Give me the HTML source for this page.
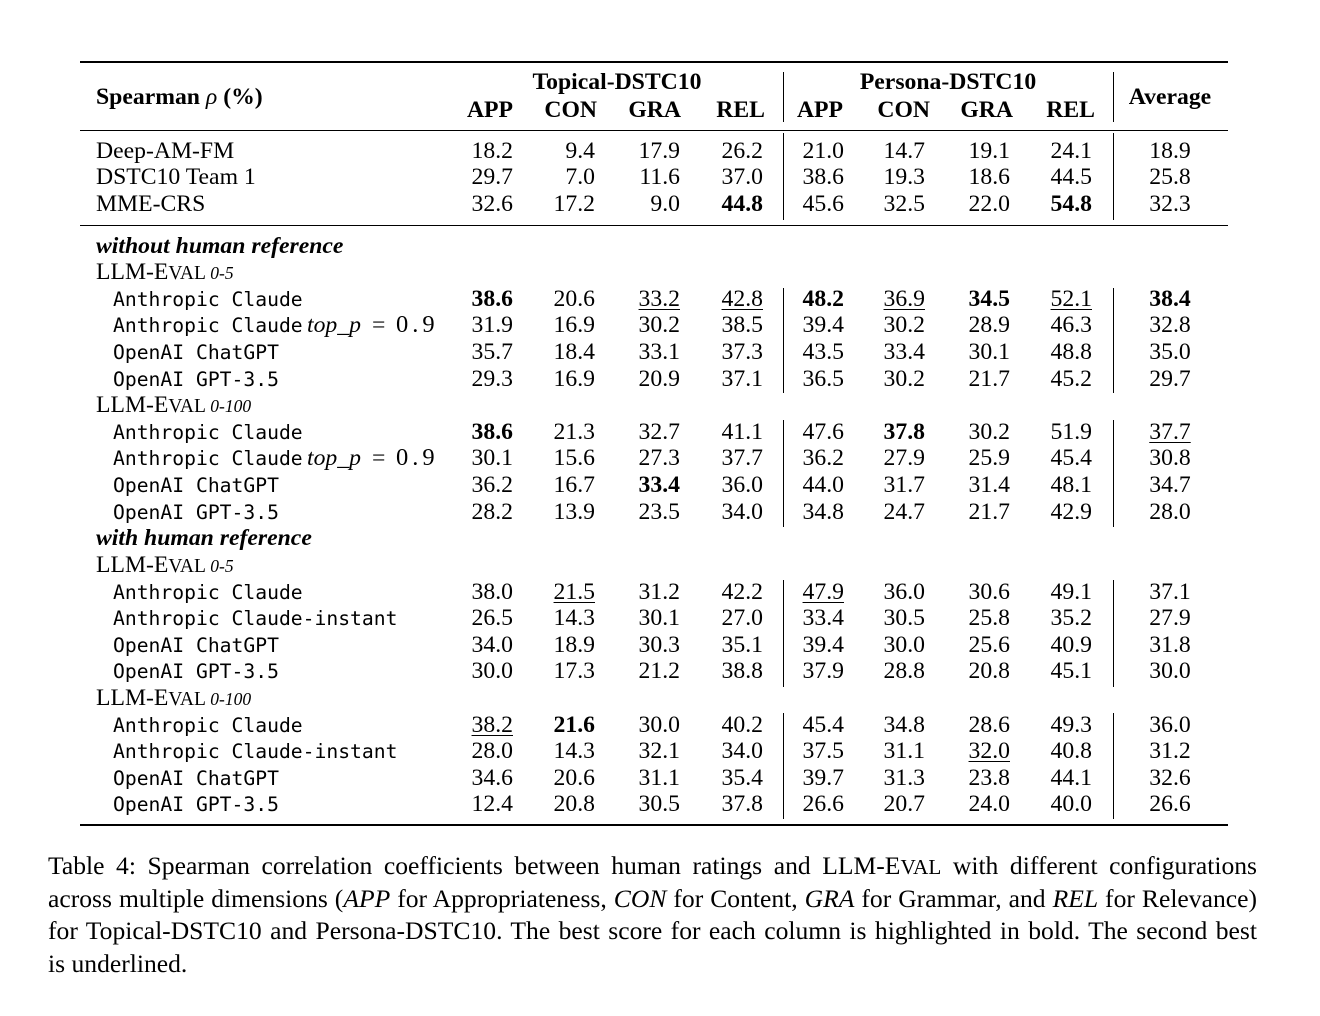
<!DOCTYPE html>
<html>
<head>
<meta charset="utf-8">
<style>
html,body{margin:0;padding:0;background:#fff;}
body{width:1320px;height:1016px;position:relative;overflow:hidden;color:#000;font-family:"Liberation Serif",serif;}
.hr{position:absolute;left:80px;width:1148px;background:#000;}
.vb{position:absolute;width:1px;background:#000;}
.r{position:absolute;left:0;width:1320px;height:26px;line-height:26px;font-size:23.7px;white-space:nowrap;}
.r .c{position:absolute;top:0;width:80px;text-align:right;}
.c1{left:433px}.c2{left:515px}.c3{left:600px}.c4{left:683px}
.c5{left:764px}.c6{left:845px}.c7{left:930px}.c8{left:1012px}
.r .av{position:absolute;top:0;left:1120px;width:100px;text-align:center;}
.l{position:absolute;left:96px;top:0;}
.m{position:absolute;left:113px;top:1.2px;font-family:"DejaVu Sans Mono",monospace;font-size:19.7px;}
.sc{font-size:19.5px;}
.sm{font-size:17.5px;font-style:italic;}
u{text-decoration:underline;text-underline-offset:3px;text-decoration-thickness:1px;}
.h{font-weight:bold;}
.cap{position:absolute;left:48px;width:1209px;font-size:25.6px;line-height:32px;height:32px;white-space:nowrap;text-align:justify;text-align-last:justify;}
.cap4{text-align:left;text-align-last:left;}
.tp{position:absolute;left:307px}
.eq{position:absolute;left:372px}
.nv{position:absolute;left:396px;letter-spacing:4px;font-size:24.5px}
</style>
</head>
<body>

<!-- rules -->
<div class="hr" style="top:61px;height:2px"></div>
<div class="hr" style="top:130px;height:1px"></div>
<div class="hr" style="top:225px;height:1px"></div>
<div class="hr" style="top:824px;height:2px"></div>

<!-- vertical bars -->
<div class="vb" style="left:783px;top:72px;height:50px"></div>
<div class="vb" style="left:1113px;top:72px;height:50px"></div>
<div class="vb" style="left:783px;top:133px;height:87px"></div>
<div class="vb" style="left:1113px;top:133px;height:87px"></div>
<div class="vb" style="left:783px;top:288px;height:105px"></div>
<div class="vb" style="left:1113px;top:288px;height:105px"></div>
<div class="vb" style="left:783px;top:420px;height:107px"></div>
<div class="vb" style="left:1113px;top:420px;height:107px"></div>
<div class="vb" style="left:783px;top:580px;height:107px"></div>
<div class="vb" style="left:1113px;top:580px;height:107px"></div>
<div class="vb" style="left:783px;top:713px;height:106px"></div>
<div class="vb" style="left:1113px;top:713px;height:106px"></div>

<!-- header -->
<div class="r h" style="top:83.5px"><span class="l">Spearman <i style="font-weight:normal">ρ</i> (%)</span></div>
<div class="r h" style="top:69px">
  <span style="position:absolute;left:517px;width:200px;text-align:center">Topical-DSTC10</span>
  <span style="position:absolute;left:848px;width:200px;text-align:center">Persona-DSTC10</span>
</div>
<div class="r h" style="top:84px"><span class="av">Average</span></div>
<div class="r h" style="top:96.5px">
  <span class="c" style="left:433px">APP</span>
  <span class="c" style="left:517px">CON</span>
  <span class="c" style="left:601px">GRA</span>
  <span class="c" style="left:685px">REL</span>
  <span class="c" style="left:763px">APP</span>
  <span class="c" style="left:850px">CON</span>
  <span class="c" style="left:933px">GRA</span>
  <span class="c" style="left:1015px">REL</span>
</div>

<!-- baselines -->
<div class="r" style="top:137.5px"><span class="l">Deep-AM-FM</span><span class="c c1">18.2</span><span class="c c2">9.4</span><span class="c c3">17.9</span><span class="c c4">26.2</span><span class="c c5">21.0</span><span class="c c6">14.7</span><span class="c c7">19.1</span><span class="c c8">24.1</span><span class="av">18.9</span></div>
<div class="r" style="top:164px"><span class="l">DSTC10 Team 1</span><span class="c c1">29.7</span><span class="c c2">7.0</span><span class="c c3">11.6</span><span class="c c4">37.0</span><span class="c c5">38.6</span><span class="c c6">19.3</span><span class="c c7">18.6</span><span class="c c8">44.5</span><span class="av">25.8</span></div>
<div class="r" style="top:190.5px"><span class="l">MME-CRS</span><span class="c c1">32.6</span><span class="c c2">17.2</span><span class="c c3">9.0</span><span class="c c4"><b>44.8</b></span><span class="c c5">45.6</span><span class="c c6">32.5</span><span class="c c7">22.0</span><span class="c c8"><b>54.8</b></span><span class="av">32.3</span></div>

<!-- without human reference -->
<div class="r" style="top:232.5px"><span class="l"><b><i>without human reference</i></b></span></div>
<div class="r" style="top:259px"><span class="l">LLM-E<span class="sc">VAL</span><span class="sm"> 0-5</span></span></div>
<div class="r" style="top:285.7px"><span class="m">Anthropic Claude</span><span class="c c1"><b>38.6</b></span><span class="c c2">20.6</span><span class="c c3"><u>33.2</u></span><span class="c c4"><u>42.8</u></span><span class="c c5"><b>48.2</b></span><span class="c c6"><u>36.9</u></span><span class="c c7"><b>34.5</b></span><span class="c c8"><u>52.1</u></span><span class="av"><b>38.4</b></span></div>
<div class="r" style="top:312.3px"><span class="m">Anthropic Claude</span><span class="tp"><i>top_p</i></span><span class="eq">=</span><span class="nv">0.9</span><span class="c c1">31.9</span><span class="c c2">16.9</span><span class="c c3">30.2</span><span class="c c4">38.5</span><span class="c c5">39.4</span><span class="c c6">30.2</span><span class="c c7">28.9</span><span class="c c8">46.3</span><span class="av">32.8</span></div>
<div class="r" style="top:338.9px"><span class="m">OpenAI ChatGPT</span><span class="c c1">35.7</span><span class="c c2">18.4</span><span class="c c3">33.1</span><span class="c c4">37.3</span><span class="c c5">43.5</span><span class="c c6">33.4</span><span class="c c7">30.1</span><span class="c c8">48.8</span><span class="av">35.0</span></div>
<div class="r" style="top:365.5px"><span class="m">OpenAI GPT-3.5</span><span class="c c1">29.3</span><span class="c c2">16.9</span><span class="c c3">20.9</span><span class="c c4">37.1</span><span class="c c5">36.5</span><span class="c c6">30.2</span><span class="c c7">21.7</span><span class="c c8">45.2</span><span class="av">29.7</span></div>
<div class="r" style="top:392px"><span class="l">LLM-E<span class="sc">VAL</span><span class="sm"> 0-100</span></span></div>
<div class="r" style="top:418.5px"><span class="m">Anthropic Claude</span><span class="c c1"><b>38.6</b></span><span class="c c2">21.3</span><span class="c c3">32.7</span><span class="c c4">41.1</span><span class="c c5">47.6</span><span class="c c6"><b>37.8</b></span><span class="c c7">30.2</span><span class="c c8">51.9</span><span class="av"><u>37.7</u></span></div>
<div class="r" style="top:445.2px"><span class="m">Anthropic Claude</span><span class="tp"><i>top_p</i></span><span class="eq">=</span><span class="nv">0.9</span><span class="c c1">30.1</span><span class="c c2">15.6</span><span class="c c3">27.3</span><span class="c c4">37.7</span><span class="c c5">36.2</span><span class="c c6">27.9</span><span class="c c7">25.9</span><span class="c c8">45.4</span><span class="av">30.8</span></div>
<div class="r" style="top:471.8px"><span class="m">OpenAI ChatGPT</span><span class="c c1">36.2</span><span class="c c2">16.7</span><span class="c c3"><b>33.4</b></span><span class="c c4">36.0</span><span class="c c5">44.0</span><span class="c c6">31.7</span><span class="c c7">31.4</span><span class="c c8">48.1</span><span class="av">34.7</span></div>
<div class="r" style="top:498.5px"><span class="m">OpenAI GPT-3.5</span><span class="c c1">28.2</span><span class="c c2">13.9</span><span class="c c3">23.5</span><span class="c c4">34.0</span><span class="c c5">34.8</span><span class="c c6">24.7</span><span class="c c7">21.7</span><span class="c c8">42.9</span><span class="av">28.0</span></div>

<!-- with human reference -->
<div class="r" style="top:525.3px"><span class="l"><b><i>with human reference</i></b></span></div>
<div class="r" style="top:551.9px"><span class="l">LLM-E<span class="sc">VAL</span><span class="sm"> 0-5</span></span></div>
<div class="r" style="top:578.5px"><span class="m">Anthropic Claude</span><span class="c c1">38.0</span><span class="c c2"><u>21.5</u></span><span class="c c3">31.2</span><span class="c c4">42.2</span><span class="c c5"><u>47.9</u></span><span class="c c6">36.0</span><span class="c c7">30.6</span><span class="c c8">49.1</span><span class="av">37.1</span></div>
<div class="r" style="top:605.1px"><span class="m">Anthropic Claude-instant</span><span class="c c1">26.5</span><span class="c c2">14.3</span><span class="c c3">30.1</span><span class="c c4">27.0</span><span class="c c5">33.4</span><span class="c c6">30.5</span><span class="c c7">25.8</span><span class="c c8">35.2</span><span class="av">27.9</span></div>
<div class="r" style="top:631.7px"><span class="m">OpenAI ChatGPT</span><span class="c c1">34.0</span><span class="c c2">18.9</span><span class="c c3">30.3</span><span class="c c4">35.1</span><span class="c c5">39.4</span><span class="c c6">30.0</span><span class="c c7">25.6</span><span class="c c8">40.9</span><span class="av">31.8</span></div>
<div class="r" style="top:658.3px"><span class="m">OpenAI GPT-3.5</span><span class="c c1">30.0</span><span class="c c2">17.3</span><span class="c c3">21.2</span><span class="c c4">38.8</span><span class="c c5">37.9</span><span class="c c6">28.8</span><span class="c c7">20.8</span><span class="c c8">45.1</span><span class="av">30.0</span></div>
<div class="r" style="top:684.9px"><span class="l">LLM-E<span class="sc">VAL</span><span class="sm"> 0-100</span></span></div>
<div class="r" style="top:711.5px"><span class="m">Anthropic Claude</span><span class="c c1"><u>38.2</u></span><span class="c c2"><b>21.6</b></span><span class="c c3">30.0</span><span class="c c4">40.2</span><span class="c c5">45.4</span><span class="c c6">34.8</span><span class="c c7">28.6</span><span class="c c8">49.3</span><span class="av">36.0</span></div>
<div class="r" style="top:738.1px"><span class="m">Anthropic Claude-instant</span><span class="c c1">28.0</span><span class="c c2">14.3</span><span class="c c3">32.1</span><span class="c c4">34.0</span><span class="c c5">37.5</span><span class="c c6">31.1</span><span class="c c7"><u>32.0</u></span><span class="c c8">40.8</span><span class="av">31.2</span></div>
<div class="r" style="top:764.7px"><span class="m">OpenAI ChatGPT</span><span class="c c1">34.6</span><span class="c c2">20.6</span><span class="c c3">31.1</span><span class="c c4">35.4</span><span class="c c5">39.7</span><span class="c c6">31.3</span><span class="c c7">23.8</span><span class="c c8">44.1</span><span class="av">32.6</span></div>
<div class="r" style="top:791.3px"><span class="m">OpenAI GPT-3.5</span><span class="c c1">12.4</span><span class="c c2">20.8</span><span class="c c3">30.5</span><span class="c c4">37.8</span><span class="c c5">26.6</span><span class="c c6">20.7</span><span class="c c7">24.0</span><span class="c c8">40.0</span><span class="av">26.6</span></div>

<!-- caption -->
<div class="cap" style="top:850px">Table 4: Spearman correlation coefficients between human ratings and LLM-E<span style="font-size:21.2px">VAL</span> with different configurations</div>
<div class="cap" style="top:882.5px">across multiple dimensions (<i>APP</i> for Appropriateness, <i>CON</i> for Content, <i>GRA</i> for Grammar, and <i>REL</i> for Relevance)</div>
<div class="cap" style="top:915px">for Topical-DSTC10 and Persona-DSTC10. The best score for each column is highlighted in bold. The second best</div>
<div class="cap cap4" style="top:947.5px">is underlined.</div>

</body>
</html>
